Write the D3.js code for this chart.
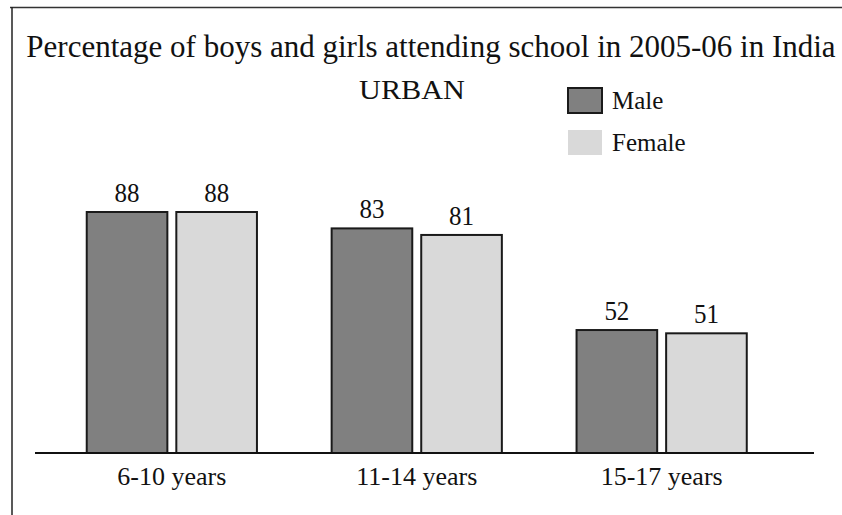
<!DOCTYPE html>
<meta charset="utf-8">
<style>
    body { margin: 0; background: #fff; }
</style>
<svg width="842" height="515" style="font-family: 'Liberation Serif'"></svg>
<script src="https://d3js.org/d3.v7.min.js"></script>
<script>
    var groups = ["6-10 years", "11-14 years", "15-17 years"];
    var series = ["Male", "Female"];
    var male = [88, 83, 52];
    var female = [88, 81, 51];
    var colors = ["#808080", "#d9d9d9"];
    var serif = "'Liberation Serif'";

    var data = groups.map(function(g, i) {
        return {group: g, values: [{key: "Male", v: male[i]}, {key: "Female", v: female[i]}]};
    });

    var svg = d3.select("svg");

    // frame lines (top and left)
    svg.append("line").attr("x1", 10).attr("x2", 842).attr("y1", 7.5).attr("y2", 7.5)
        .attr("stroke", "#333").attr("stroke-width", 1.5);
    svg.append("line").attr("x1", 12).attr("x2", 12).attr("y1", 7).attr("y2", 515)
        .attr("stroke", "#222").attr("stroke-width", 1.5);

    var x0 = d3.scaleBand().domain(groups).range([50, 783.5]).paddingInner(0.305).paddingOuter(0.15);
    var x1 = d3.scaleBand().domain(series).range([0, x0.bandwidth()]).paddingInner(0.1);
    // the source chart's bars are not zero-based, so use a matching scale
    var y = d3.scaleLinear().domain([14.5, 88]).range([453, 212]);

    var g = svg.append("g");

    var grp = g.selectAll(".grp").data(data).enter().append("g")
        .attr("transform", function(d) { return "translate(" + x0(d.group) + ",0)"; });

    grp.selectAll("rect").data(function(d) { return d.values; }).enter().append("rect")
        .attr("x", function(d) { return x1(d.key); })
        .attr("y", function(d) { return y(d.v); })
        .attr("width", x1.bandwidth())
        .attr("height", function(d) { return y(14.5) - y(d.v); })
        .attr("fill", function(d, i) { return colors[i]; })
        .attr("stroke", "#1a1a1a")
        .attr("stroke-width", 2);

    grp.selectAll(".val").data(function(d) { return d.values; }).enter().append("text")
        .attr("transform", function(d) {
            return "translate(" + (x1(d.key) + x1.bandwidth() / 2) + "," + (y(d.v) - 10) + ") scale(1,1.08)";
        })
        .attr("text-anchor", "middle")
        .style("font-family", serif)
        .style("font-size", "25px")
        .attr("fill", "#111")
        .text(function(d) { return d.v; });

    // baseline
    g.append("line").attr("x1", 35).attr("x2", 814).attr("y1", y(14.5)).attr("y2", y(14.5))
        .attr("stroke", "#111").attr("stroke-width", 2);

    var xAxis = d3.axisBottom(x0).tickSize(0).tickPadding(0);
    var ax = g.append("g").attr("transform", "translate(0," + y(14.5) + ")").call(xAxis);
    ax.attr("font-family", null);
    ax.select(".domain").remove();
    ax.selectAll("text")
        .attr("y", 32).attr("dy", 0)
        .style("font-size", "26px")
        .style("font-family", serif)
        .attr("fill", "#111");

    // title
    svg.append("text")
        .attr("x", 431).attr("y", 57)
        .attr("text-anchor", "middle")
        .style("font-family", serif)
        .style("font-size", "31px")
        .attr("fill", "#111")
        .text("Percentage of boys and girls attending school in 2005-06 in India");

    svg.append("text")
        .attr("transform", "translate(412,99) scale(1.12,1)")
        .attr("text-anchor", "middle")
        .style("font-family", serif)
        .style("font-size", "27px")
        .attr("fill", "#111")
        .text("URBAN");

    // legend
    var leg = svg.append("g").attr("transform", "translate(568,88)");
    var li = leg.selectAll("g").data(series).enter().append("g")
        .attr("transform", function(d, i) { return "translate(0," + i * 42 + ")"; });
    li.append("rect")
        .attr("width", 34).attr("height", 25)
        .attr("fill", function(d, i) { return colors[i]; })
        .attr("stroke", function(d, i) { return i === 0 ? "#1a1a1a" : "none"; })
        .attr("stroke-width", 2);
    li.append("text")
        .attr("x", 44).attr("y", 21)
        .style("font-family", serif)
        .style("font-size", "25px")
        .attr("fill", "#111")
        .text(function(d) { return d; });
</script>
